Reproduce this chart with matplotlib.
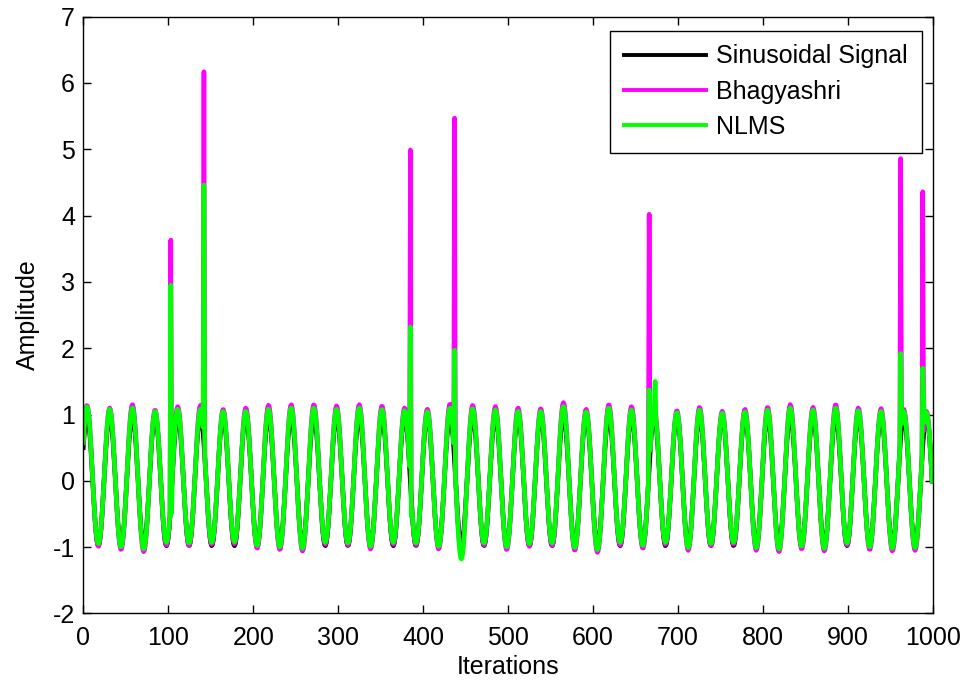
import numpy as np
import matplotlib
matplotlib.use("Agg")
import matplotlib.pyplot as plt

plt.rcParams['font.family'] = ['Liberation Sans', 'DejaVu Sans']
plt.rcParams['axes.unicode_minus'] = False

# signal: one peak every ~26.7 iterations, first peak near 4.4
n_iter = 1000
period = 26.70
first_peak = 4.4
sig_amp = 0.98

# peak / trough heights of each cycle (Bhagyashri and NLMS estimates)
bh_peaks = [1.14, 1.10, 1.15, 1.07, 1.12, 1.14, 1.08, 1.10, 1.14, 1.15,
            1.15, 1.13, 1.15, 1.13, 1.10, 1.08, 1.16, 1.14, 1.12, 1.10,
            1.09, 1.18, 1.08, 1.15, 1.12, 1.10, 1.06, 1.11, 1.05, 1.08,
            1.11, 1.15, 1.11, 1.15, 1.10, 1.09, 1.08, 1.05]
bh_troughs = [-0.99, -1.04, -1.07, -0.97, -0.98, -0.96, -0.95, -1.02, -1.04, -1.06,
              -0.96, -0.97, -1.03, -0.96, -0.97, -1.03, -1.10, -0.97, -1.04, -0.99,
              -0.98, -1.05, -1.08, -0.97, -1.02, -0.96, -1.05, -0.98, -0.96, -1.05,
              -1.07, -1.03, -1.06, -0.97, -1.04, -1.06, -1.05, -1.00]
nl_peaks = [1.12, 1.08, 1.10, 1.05, 1.08, 1.08, 1.05, 1.05, 1.08, 1.10,
            1.10, 1.08, 1.10, 1.08, 1.06, 1.04, 1.10, 1.09, 1.07, 1.05,
            1.05, 1.12, 1.04, 1.10, 1.07, 1.06, 1.03, 1.07, 1.02, 1.04,
            1.07, 1.10, 1.07, 1.10, 1.06, 1.05, 1.05, 1.03]
nl_troughs = [-0.95, -1.00, -1.03, -0.93, -0.94, -0.93, -0.92, -0.98, -1.00, -1.02,
              -0.93, -0.94, -0.99, -0.93, -0.94, -0.99, -1.18, -0.94, -1.00, -0.95,
              -0.94, -1.01, -1.04, -0.93, -0.98, -0.93, -1.01, -0.95, -0.93, -1.01,
              -1.03, -0.99, -1.02, -0.94, -1.00, -1.02, -1.01, -0.97]

# impulsive spikes (iteration, amplitude)
spike_iter = [103, 142, 385, 437, 666, 962, 988]
bh_spike = [3.63, 6.17, 4.99, 5.47, 4.02, 4.86, 4.36]
nl_spike = [2.95, 4.46, 2.32, 1.97, 1.37, 1.92, 1.70]
# NLMS samples disturbed right after the spikes
nl_dist_iter = [104, 386, 667, 673, 989]
nl_dist_val = [-0.49, -0.54, 0.46, 1.50, 1.29]

n = np.arange(n_iter)
wave = np.cos(2 * np.pi * (n - first_peak) / period)
kp = np.clip(np.round((n - first_peak) / period).astype(int), 0, len(bh_peaks) - 1)
kt = np.clip(np.round((n - first_peak - period / 2) / period).astype(int), 0, len(bh_troughs) - 1)


def scaled(peaks, troughs):
    return np.where(wave > 0, wave * np.array(peaks)[kp], -wave * np.array(troughs)[kt])


signal = sig_amp * wave
bhag = scaled(bh_peaks, bh_troughs)
nlms = scaled(nl_peaks, nl_troughs)
bhag[spike_iter] = bh_spike
nlms[spike_iter] = nl_spike
nlms[nl_dist_iter] = nl_dist_val

fig = plt.figure(figsize=(9.65, 6.86), dpi=100)
ax = fig.add_axes([0.0863, 0.1058, 0.8805, 0.8699])

lw = 3.3
ax.plot(n, signal, color='black', lw=lw, label='Sinusoidal Signal')
ax.plot(n, bhag, color='#ff00ff', lw=lw, label='Bhagyashri')
ax.plot(n, nlms, color='#00ff00', lw=lw, label='NLMS')

ax.set_xlim(0, 1000)
ax.set_ylim(-2, 7)
ax.set_xticks(np.arange(0, 1001, 100))
ax.set_yticks(np.arange(-2, 8, 1))
ax.tick_params(direction='in', length=6, width=1, top=True, right=True,
               labelsize=18, pad=6)
ax.tick_params(axis='x', pad=9)
for s in ax.spines.values():
    s.set_linewidth(1)
ax.set_xlabel('Iterations', fontsize=18, labelpad=4)
ax.set_ylabel('Amplitude', fontsize=18, labelpad=9)

leg = ax.legend(loc='upper right', bbox_to_anchor=(0.9867, 0.9765), borderaxespad=0,
                fontsize=18, handlelength=3.3, handletextpad=0.4, labelspacing=0.45,
                fancybox=False, framealpha=1, edgecolor='black', borderpad=0.55)
leg.get_frame().set_linewidth(1)
for h in leg.get_lines():
    h.set_linewidth(2.8)

fig.savefig('out.png', dpi=100)
